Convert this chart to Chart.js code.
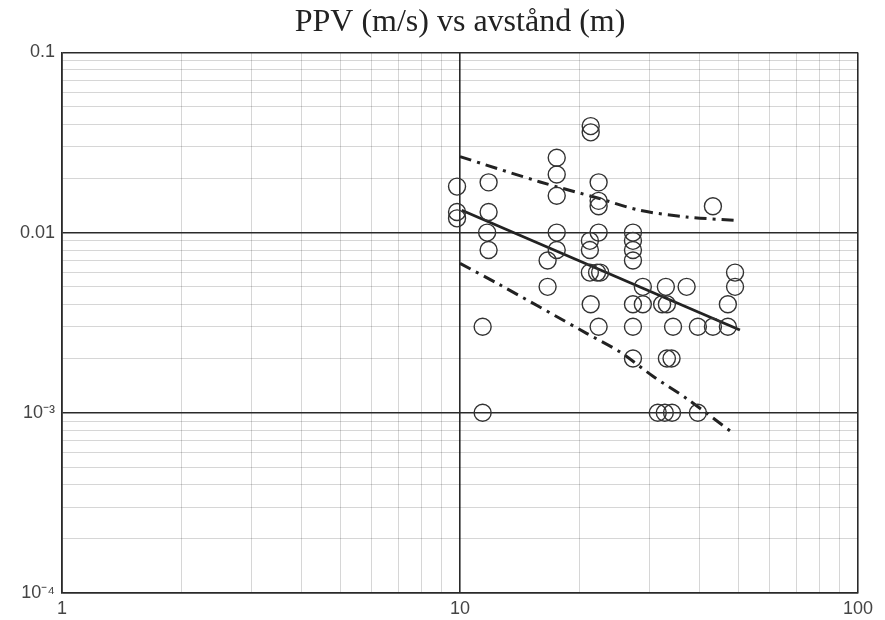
<!DOCTYPE html>
<html>
<head>
<meta charset="utf-8">
<script src="https://cdn.jsdelivr.net/npm/chart.js@4.4.0/dist/chart.umd.min.js"></script>
<style>
  body { margin: 0; background: #fff; }
  #wrap { width: 885px; height: 620px; }
</style>
</head>
<body>
<div id="wrap"><canvas id="ppvChart" width="885" height="620"></canvas></div>
<script>
// measured points: distance (m) and PPV (m/s)
const distance = [
    9.83, 9.83, 9.83, 11.8, 11.8, 11.7, 11.8, 11.4, 11.4,
    17.5, 17.5, 17.5, 17.5, 17.5, 16.6, 16.6,
    21.3, 21.3, 22.3, 22.3, 22.3, 22.3, 21.2, 21.2, 21.2, 22.1, 22.5, 21.3, 22.3,
    27.2, 27.2, 27.2, 27.2, 28.8, 27.2, 28.8, 27.2, 27.2,
    32.9, 37.1, 32.2, 33.1, 34.3, 39.6, 33.1, 34.0, 31.4, 32.7, 34.1, 39.6,
    43.2, 49.1, 49.1, 47.1, 47.1, 43.2
];
const ppv = [
    0.018, 0.013, 0.012, 0.019, 0.013, 0.010, 0.008, 0.003, 0.001,
    0.026, 0.021, 0.016, 0.010, 0.008, 0.007, 0.005,
    0.039, 0.036, 0.019, 0.015, 0.014, 0.010, 0.009, 0.008, 0.006, 0.006, 0.006, 0.004, 0.003,
    0.010, 0.009, 0.008, 0.007, 0.005, 0.004, 0.004, 0.003, 0.002,
    0.005, 0.005, 0.004, 0.004, 0.003, 0.003, 0.002, 0.002, 0.001, 0.001, 0.001, 0.001,
    0.014, 0.006, 0.005, 0.004, 0.003, 0.003
];

// regression line and the two dash-dot bounds
const fitX = [10.1, 50.5];
const fitY = [0.0133, 0.00288];
const upperX = [10.0, 15.9, 22.3, 28.3, 37.1, 49.1];
const upperY = [0.0264, 0.0191, 0.0155, 0.0133, 0.0122, 0.0117];
const lowerX = [10.0, 12.5, 20.8, 25.2, 30.6, 37.1, 48.6];
const lowerY = [0.00675, 0.00518, 0.00276, 0.00218, 0.00159, 0.00120, 0.00077];

// axis labels
const xTickValues = [1, 10, 100];
const xTickLabels = ['1', '10', '100'];
const yTickValues = [0.1, 0.01, 0.001, 0.0001];
const yTickLabels = ['0.1', '0.01', '10\u207B\u00B3', '10\u207B\u2074'];

function toXY(xs, ys) {
    return xs.map((x, i) => ({ x: x, y: ys[i] }));
}

function isDecade(v) {
    const l = Math.log10(v);
    return Math.abs(l - Math.round(l)) < 1e-6;
}

function logTicks(minExp, maxExp) {
    const out = [];
    for (let e = minExp; e < maxExp; e++) {
        for (let m = 1; m < 10; m++) out.push({ value: m * Math.pow(10, e) });
    }
    out.push({ value: Math.pow(10, maxExp) });
    return out;
}

function labelFor(values, labels, v) {
    const i = values.findIndex(t => Math.abs(t - v) / t < 1e-6);
    return i >= 0 ? labels[i] : '';
}

// minor lines are translucent so they don't lighten the dark decade lines where they cross
const gridColor = ctx => (ctx.tick && isDecade(ctx.tick.value)) ? '#2a2a2a' : 'rgba(0,0,0,0.16)';
const gridWidth = ctx => (ctx.tick && isDecade(ctx.tick.value)) ? 1.6 : 1;

const ctx = document.getElementById('ppvChart').getContext('2d');
new Chart(ctx, {
    type: 'scatter',
    data: {
        datasets: [
            {
                label: 'PPV',
                data: toXY(distance, ppv),
                pointRadius: 8.5,
                pointBorderWidth: 1.4,
                pointBackgroundColor: 'rgba(0,0,0,0)',
                pointBorderColor: '#333',
                showLine: false
            },
            {
                label: 'fit',
                data: toXY(fitX, fitY),
                showLine: true,
                pointRadius: 0,
                borderColor: '#222',
                borderWidth: 2.8
            },
            {
                label: 'upper',
                data: toXY(upperX, upperY),
                showLine: true,
                pointRadius: 0,
                borderColor: '#222',
                borderWidth: 3,
                borderDash: [12, 6, 3, 6],
                tension: 0.3
            },
            {
                label: 'lower',
                data: toXY(lowerX, lowerY),
                showLine: true,
                pointRadius: 0,
                borderColor: '#222',
                borderWidth: 3,
                borderDash: [12, 6, 3, 6],
                tension: 0.3
            }
        ]
    },
    options: {
        responsive: false,
        animation: false,
        devicePixelRatio: 1,
        layout: { padding: { left: 0, right: 27, top: 0, bottom: 0 } },
        plugins: {
            legend: { display: false },
            tooltip: { enabled: false },
            title: {
                display: true,
                text: 'PPV (m/s) vs avstånd (m)',
                fullSize: false,
                color: '#222',
                font: { family: 'Liberation Serif', size: 32, weight: 'normal' },
                padding: { top: 3, bottom: 11 }
            }
        },
        scales: {
            x: {
                type: 'logarithmic',
                min: 1,
                max: 100,
                afterBuildTicks: scale => { scale.ticks = logTicks(0, 2); },
                afterFit: scale => { scale.height = 27; },
                grid: { color: gridColor, lineWidth: gridWidth, drawTicks: false },
                border: { color: '#2a2a2a', width: 1.6 },
                ticks: {
                    autoSkip: false,
                    maxRotation: 0,
                    padding: 5,
                    color: '#444',
                    font: { family: 'Liberation Sans', size: 18 },
                    callback: v => labelFor(xTickValues, xTickLabels, v)
                }
            },
            y: {
                type: 'logarithmic',
                min: 0.0001,
                max: 0.1,
                afterBuildTicks: scale => { scale.ticks = logTicks(-4, -1); },
                afterFit: scale => { scale.width = 62; },
                grid: { color: gridColor, lineWidth: gridWidth, drawTicks: false },
                border: { color: '#2a2a2a', width: 1.6 },
                ticks: {
                    autoSkip: false,
                    padding: 7,
                    color: '#444',
                    font: { family: 'Liberation Sans', size: 18 },
                    callback: v => labelFor(yTickValues, yTickLabels, v)
                }
            }
        }
    }
});
</script>
</body>
</html>
